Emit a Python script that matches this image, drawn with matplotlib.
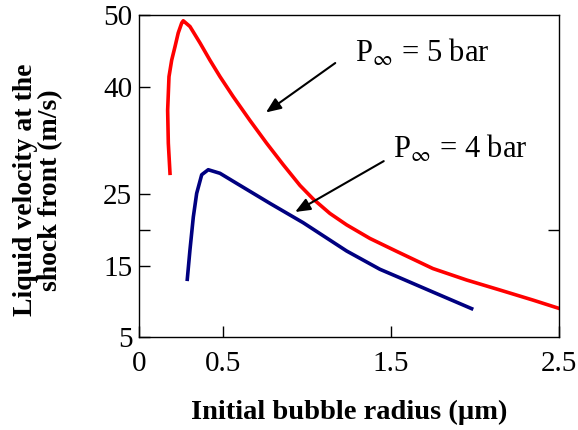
import numpy as np
import matplotlib
matplotlib.use("Agg")
import matplotlib.pyplot as plt

plt.rcParams['font.family'] = ['Liberation Serif', 'DejaVu Serif']
plt.rcParams['mathtext.fontset'] = 'stix'

#%% data (radius in um, velocity in m/s)
r_5bar = [0.183, 0.173, 0.169, 0.177, 0.193, 0.213, 0.232, 0.253, 0.262, 0.302,
          0.362, 0.421, 0.481, 0.560, 0.659, 0.759, 0.858, 0.958, 1.037, 1.136,
          1.236, 1.375, 1.534, 1.750, 1.951, 2.150, 2.346, 2.5]
v_5bar = [27.9, 32.1, 36.7, 41.4, 43.7, 45.6, 47.5, 48.9, 49.2, 48.4,
          46.1, 43.7, 41.4, 38.6, 35.3, 32.1, 29.1, 26.2, 24.3, 22.3,
          20.7, 18.8, 17.0, 14.6, 13.0, 11.6, 10.2, 9.05]

r_4bar = [0.286, 0.302, 0.322, 0.342, 0.372, 0.411, 0.481, 0.580, 0.779, 0.977,
          1.236, 1.434, 1.554, 1.752, 1.981]
v_4bar = [13.1, 17.2, 21.8, 25.1, 27.7, 28.4, 27.9, 26.5, 23.7, 21.0,
          17.05, 14.5, 13.3, 11.3, 9.0]

xtick_vals = [0, 0.5, 1.5, 2.5]
xtick_labels = ['0', '0.5', '1.5', '2.5']
ytick_vals = [5, 15, 20, 25, 40, 50]
ytick_labels = ['5', '15', '', '25', '40', '50']

#%% figure
fig = plt.figure(figsize=(5.78, 4.30), dpi=100)
ax = fig.add_axes([0.241, 0.2156, 0.7256, 0.7494])

ax.plot(r_5bar, v_5bar, color='#ff0000', lw=2.6, solid_joinstyle='round')
ax.plot(r_4bar, v_4bar, color='#000080', lw=2.6, solid_joinstyle='round')

ax.set_xlim(0, 2.5)
ax.set_ylim(5, 50)
ax.set_xticks(xtick_vals)
ax.set_xticklabels(xtick_labels)
ax.set_yticks(ytick_vals)
ax.set_yticklabels(ytick_labels)
ax.tick_params(direction='in', length=8, width=1, labelsize=21)
ax.tick_params(axis='x', pad=10)
ax.tick_params(axis='y', pad=5)
for s in ax.spines.values():
    s.set_linewidth(1)

# single tick on the right spine
sec = ax.secondary_yaxis('right')
sec.set_yticks([20])
sec.set_yticklabels([''])
sec.tick_params(direction='in', length=8, width=1)
sec.spines['right'].set_visible(False)

arrow = dict(arrowstyle='-|>,head_length=0.6,head_width=0.25', color='black',
             lw=1.5, mutation_scale=15, shrinkA=0, shrinkB=0)
ax.annotate('', xy=(0.755, 36.4), xytext=(1.168, 43.3), arrowprops=arrow)
ax.annotate('', xy=(0.929, 22.5), xytext=(1.457, 29.6), arrowprops=arrow)
ax.text(1.286, 43.5, r'P$_{\infty}$ = 5 bar', fontsize=22, va='baseline', ha='left')
ax.text(1.514, 30.0, r'P$_{\infty}$ = 4 bar', fontsize=22, va='baseline', ha='left')

fig.text(349 / 578, 1 - 412 / 430, 'Initial bubble radius (\u00b5m)', fontsize=20.5,
         fontweight='bold', ha='center', va='center')
fig.text(38 / 578, 1 - 190 / 430, 'Liquid velocity at the\nshock front (m/s)',
         fontsize=20, fontweight='bold', ha='center', va='center',
         rotation=90, linespacing=1.0)

fig.savefig('out.png', dpi=100)
